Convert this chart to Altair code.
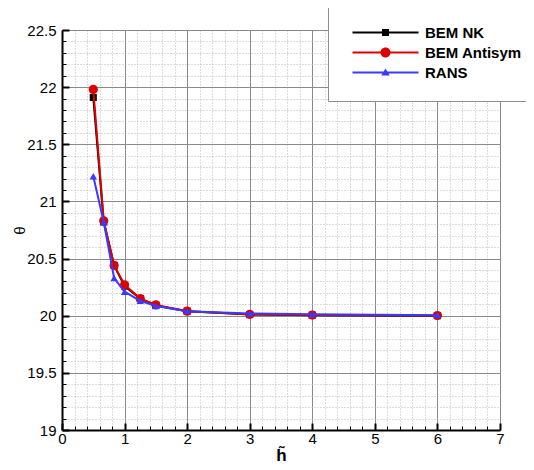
import altair as alt
import pandas as pd

# ---- data ----
h_vals = [0.5, 0.667, 0.833, 1.0, 1.25, 1.5, 2.0, 3.0, 4.0, 6.0]
theta_nk = [21.91, 20.82, 20.44, 20.26, 20.15, 20.09, 20.04, 20.01, 20.005, 20.0]
theta_antisym = [21.98, 20.83, 20.44, 20.27, 20.15, 20.095, 20.04, 20.012, 20.006, 20.002]
theta_rans = [21.22, 20.82, 20.33, 20.21, 20.13, 20.085, 20.04, 20.02, 20.012, 20.005]

series_names = ["BEM NK", "BEM Antisym", "RANS"]
series_colors = ["#000000", "#dd0000", "#3a3aff"]
series_shapes = ["square", "circle", "triangle-up"]
series_sizes = [50, 85, 55]

x_major = [0, 1, 2, 3, 4, 5, 6, 7]
x_minor = [round(i * 0.2, 1) for i in range(36) if i % 5]
y_major = [19, 19.5, 20, 20.5, 21, 21.5, 22, 22.5]
y_minor = [round(19 + i * 0.1, 1) for i in range(36) if i % 5]

# legend symbols: line segment + marker (unit coords)
line_part = "M-6.6,-0.2H6.6V0.2H-6.6Z"
legend_paths = [
    line_part + "M-0.7,-0.7H0.7V0.7H-0.7Z",
    line_part + "M0,-1A1,1 0 1,1 0,1A1,1 0 1,1 0,-1Z",
    line_part + "M0,-0.8L0.85,0.6H-0.85Z",
]

frames = []
for name, vals in zip(series_names, [theta_nk, theta_antisym, theta_rans]):
    frames.append(pd.DataFrame({"h": h_vals, "theta": vals, "series": name}))
df = pd.concat(frames, ignore_index=True)

FONT = "Liberation Sans"
xs = alt.Scale(domain=[0, 7], nice=False, zero=False)
ys = alt.Scale(domain=[19, 22.5], nice=False, zero=False)


def xy(chart, xaxis=None, yaxis=None):
    return chart.encode(
        x=alt.X("h:Q", scale=xs, axis=xaxis),
        y=alt.Y("theta:Q", scale=ys, axis=yaxis),
    )


base = alt.Chart(df)
hidden = base.mark_point(opacity=0)

# minor dotted grid
minor_grid = xy(
    hidden,
    alt.Axis(orient="bottom", values=x_minor, grid=True, gridColor="#b8b8b8",
             gridDash=[1, 2], gridWidth=1, ticks=False, labels=False,
             domain=False, title=None),
    alt.Axis(orient="left", values=y_minor, grid=True, gridColor="#b8b8b8",
             gridDash=[1, 2], gridWidth=1, ticks=False, labels=False,
             domain=False, title=None),
)

# main axes with major grid, labels and titles
main_axes = xy(
    hidden,
    alt.Axis(orient="bottom", values=x_major, grid=True, gridColor="#8a8a8a",
             gridWidth=1, ticks=False, domain=True, domainColor="black",
             domainWidth=2, labelFont=FONT, labelFontSize=15, labelColor="black",
             labelPadding=1, labelFlush=False, labelOverlap=False,
             title="h\u0303", titleFont=FONT, titleFontSize=17,
             titleFontWeight="bold", titleColor="black", titlePadding=1),
    alt.Axis(orient="left", values=y_major, format="~g", grid=True,
             gridColor="#8a8a8a", gridWidth=1, ticks=False, domain=True,
             domainColor="black", domainWidth=2, labelFont=FONT,
             labelFontSize=15, labelColor="black", labelPadding=6,
             labelFlush=False, labelOverlap=False, title="\u03b8",
             titleFont=FONT, titleFontSize=15, titleFontWeight="normal",
             titleColor="black", titlePadding=-1),
)

# inward major ticks
major_ticks = xy(
    hidden,
    alt.Axis(orient="bottom", offset=-7, values=x_major, ticks=True, tickSize=7,
             tickWidth=2, tickColor="black", domain=False, labels=False,
             grid=False, title=None),
    alt.Axis(orient="left", offset=-7, values=y_major, ticks=True, tickSize=7,
             tickWidth=2, tickColor="black", domain=False, labels=False,
             grid=False, title=None),
)

# inward minor ticks
minor_ticks = xy(
    hidden,
    alt.Axis(orient="bottom", offset=-4, values=x_minor, ticks=True, tickSize=4,
             tickWidth=1, tickColor="black", domain=False, labels=False,
             grid=False, title=None),
    alt.Axis(orient="left", offset=-4, values=y_minor, ticks=True, tickSize=4,
             tickWidth=1, tickColor="black", domain=False, labels=False,
             grid=False, title=None),
)

data_layers = []
for name, col, shp, sz in zip(series_names, series_colors, series_shapes, series_sizes):
    sub = base.transform_filter(alt.datum.series == name)
    data_layers.append(xy(sub.mark_line(color=col, strokeWidth=2)))
    data_layers.append(xy(sub.mark_point(color=col, shape=shp, size=sz,
                                         filled=True, opacity=1)))

leg = alt.Legend(
    title=None, orient="none", legendX=266, legendY=-25, direction="vertical",
    padding=20, fillColor="white", strokeColor="#909090",
    symbolSize=100, symbolOffset=30, symbolStrokeWidth=0, symbolOpacity=1,
    labelOffset=32, labelFont=FONT, labelFontSize=15, labelFontWeight="bold",
    labelColor="black", labelLimit=0, rowPadding=4,
)

legend_layer = xy(
    base.transform_filter(alt.datum.h < -100).mark_point(filled=True)
).encode(
    color=alt.Color("series:N", scale=alt.Scale(domain=series_names, range=series_colors), legend=leg),
    shape=alt.Shape("series:N", scale=alt.Scale(domain=series_names, range=legend_paths), legend=leg),
)

chart = alt.layer(
    minor_grid, main_axes, major_ticks, minor_ticks, *data_layers, legend_layer
).resolve_axis(
    x="independent", y="independent"
).properties(
    width=438, height=400,
    autosize=alt.AutoSizeParams(type="none"),
    padding={"left": 54, "top": 22, "right": 26, "bottom": 36},
).configure_view(stroke=None).configure(background="white")

chart.save("out.html", embed_options={"renderer": "svg", "actions": False})
